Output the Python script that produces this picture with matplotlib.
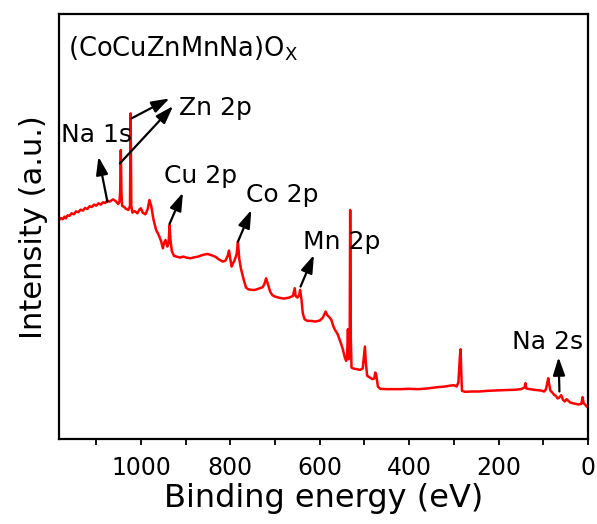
import matplotlib
matplotlib.use("Agg")
import matplotlib.pyplot as plt
from matplotlib.ticker import MultipleLocator

# XPS survey spectrum (binding energy in eV, intensity in a.u.)
energy = [
    1183, 1179, 1175, 1171, 1168, 1164, 1160, 1155, 1150, 1145, 1140, 1135, 1130,
    1125, 1120, 1115, 1110, 1105, 1100, 1095, 1090, 1085, 1080, 1075, 1070,
    1062, 1056, 1051, 1048, 1046.5, 1045, 1043.5, 1042, 1038, 1034, 1028, 1024.5,
    1023, 1021.5, 1019, 1014, 1008, 1003, 1000, 996, 990, 985, 981, 977, 972, 966,
    960, 955, 951, 948, 945, 941, 938, 936, 934, 931, 926, 920, 912, 906, 898, 889,
    880, 872, 862, 851, 842, 834, 826, 817, 811, 806, 803, 800, 797, 794, 791, 786,
    783, 780, 776, 770, 765, 760, 752, 745, 736, 728, 724, 720, 716, 711, 706, 700,
    690, 680, 668, 660, 656, 654, 650, 646, 644, 641, 638, 634, 628, 620, 610, 600,
    593, 587, 583, 578, 574, 570, 566, 560, 556, 552, 548, 544, 541, 539, 537,
    535.5, 533, 532, 530.5, 529, 525, 518, 510, 504, 501, 499, 497, 494, 488, 482,
    478, 476, 474, 470, 465, 450, 420, 400, 379, 360, 336, 320, 311, 300, 294, 290,
    286.5, 285, 283.5, 282, 275, 260, 243, 225, 209, 190, 166, 150, 142, 140, 138,
    130, 120, 106, 98, 94, 91, 89, 87, 84, 80, 76, 72, 68, 64, 60, 56, 52, 48, 44,
    40, 35, 28, 21, 15, 12, 10, 6, 3, 0,
]
intensity = [
    658, 664, 660, 668, 663, 672, 670, 678, 675, 684, 681, 689, 686,
    694, 691, 699, 697, 704, 701, 708, 704, 711, 709, 716, 713,
    720, 714, 706, 712, 740, 868, 740, 700, 698, 692, 688, 700,
    978, 700, 680, 685, 678, 690, 693, 680, 675, 690, 718, 700, 660, 628,
    612, 595, 573, 590, 598, 578, 590, 643, 600, 565, 550, 548, 545, 548, 545, 543,
    546, 548, 553, 556, 552, 548, 540, 533, 536, 550, 566, 540, 518, 528, 535, 555,
    593, 540, 510, 478, 455, 450, 448, 448, 452, 456, 465, 483, 465, 443, 432, 428,
    424, 422, 425, 430, 453, 430, 425, 432, 448, 420, 378, 360, 355, 355, 353, 356,
    365, 383, 372, 365, 358, 340, 328, 315, 300, 285, 268, 245, 235, 245, 330,
    240, 310, 688, 300, 215, 212, 210, 208, 212, 250, 278, 230, 190, 185, 180,
    182, 200, 195, 158, 151, 150, 150, 151, 150, 152, 156, 158, 160, 162, 158, 170,
    250, 270, 200, 145, 142, 143, 143, 145, 146, 147, 148, 150, 155, 168, 152,
    150, 148, 146, 143, 150, 170, 183, 165, 145, 140, 133, 130, 122, 125, 132, 118, 113, 120, 115,
    110, 108, 106, 104, 106, 126, 108, 103, 98, 95,
]

title = r"(CoCuZnMnNa)O$_\mathregular{X}$"

# peak labels: text, text position (E, I), arrow tail (E, I), arrow head (E, I)
peak_labels = ["Na 1s", "Zn 2p", "Cu 2p", "Co 2p", "Mn 2p", "Na 2s"]
label_xy = [(1179, 893), (915, 973), (949, 768), (766, 711), (637, 570), (170, 271)]
arrows = [
    ((1075, 713), (1095, 848)),
    ((1021, 963), (936, 1023)),
    ((1047, 828), (928, 1000)),
    ((936, 646), (906, 740)),
    ((783, 593), (753, 688)),
    ((643, 458), (613, 553)),
    ((64, 143), (66, 246)),
]

fig = plt.figure(figsize=(5.97, 5.24), dpi=100)
ax = fig.add_axes([0.099, 0.162, 0.886, 0.811])

ax.plot(energy, intensity, color="#ff0000", lw=1.8)

ax.set_xlim(1183, 0)
ax.set_ylim(0, 1276)
ax.xaxis.set_major_locator(MultipleLocator(200))
ax.xaxis.set_minor_locator(MultipleLocator(100))
ax.tick_params(axis="x", which="both", direction="out", length=4, width=1.3,
               labelsize=17, pad=8)
ax.set_yticks([])
for sp in ax.spines.values():
    sp.set_linewidth(1.6)

ax.set_xlabel("Binding energy (eV)", fontsize=23, labelpad=2)
ax.set_ylabel("Intensity (a.u.)", fontsize=22, labelpad=8)

ax.text(1162, 1148, title, fontsize=18.5, ha="left", va="baseline")
for lab, (x, y) in zip(peak_labels, label_xy):
    ax.text(x, y, lab, fontsize=18, ha="left", va="baseline")

for tail, head in arrows:
    ax.annotate("", xy=head, xytext=tail,
                arrowprops=dict(arrowstyle="-|>,head_length=0.6,head_width=0.2",
                                color="black", lw=1.6, mutation_scale=18,
                                shrinkA=0, shrinkB=0))

fig.savefig("out.png", dpi=100)
